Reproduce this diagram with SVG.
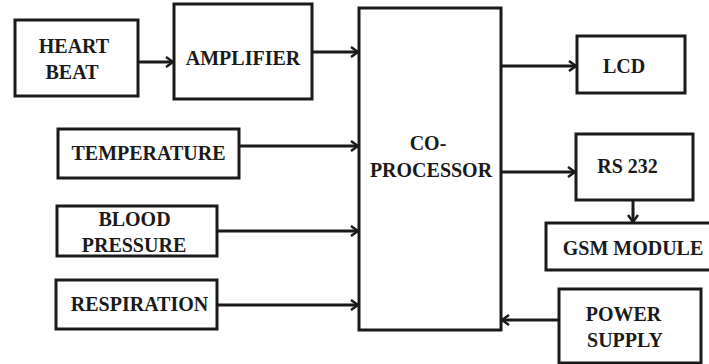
<svg xmlns="http://www.w3.org/2000/svg" width="709" height="364" viewBox="0 0 709 364">
<style>
rect.box{fill:#fff;stroke:#1a1a1a;stroke-width:3}
text{font-family:'Liberation Serif','Tinos','DejaVu Serif','Times New Roman',serif;font-weight:bold;font-size:20px;fill:#1a1a1a;text-anchor:middle}
.conn path{fill:none;stroke:#1a1a1a;stroke-width:3;marker-end:url(#ah)}
</style>
<defs>
<marker id="ah" viewBox="0 0 10 12" refX="9" refY="6" markerWidth="10" markerHeight="12" markerUnits="userSpaceOnUse" orient="auto">
<path d="M2,1 L9,6 L2,11" fill="none" stroke="#1a1a1a" stroke-width="2.5"/>
</marker>
</defs>
<rect width="709" height="364" fill="#fff"/>
<g id="heart-beat"><rect class="box" x="15" y="20" width="123" height="76"/><text x="74" y="53">HEART</text><text x="72" y="79">BEAT</text></g>
<g id="amplifier"><rect class="box" x="174" y="4" width="138" height="95"/><text x="243" y="65">AMPLIFIER</text></g>
<g id="temperature"><rect class="box" x="58" y="129" width="181" height="49"/><text x="148.5" y="160">TEMPERATURE</text></g>
<g id="blood-pressure"><rect class="box" x="57" y="206" width="160" height="50"/><text x="134.5" y="226">BLOOD</text><text x="134" y="252">PRESSURE</text></g>
<g id="respiration"><rect class="box" x="56" y="280" width="161" height="49"/><text x="139.5" y="311">RESPIRATION</text></g>
<g id="co-processor"><rect class="box" x="359" y="8" width="142" height="322"/><text x="428" y="150">CO-</text><text x="431" y="177">PROCESSOR</text></g>
<g id="lcd"><rect class="box" x="577" y="36" width="108" height="57"/><text x="624" y="73">LCD</text></g>
<g id="rs232"><rect class="box" x="576" y="134" width="117" height="66"/><text x="627.5" y="173">RS 232</text></g>
<g id="gsm-module"><rect class="box" x="546" y="223" width="165" height="47"/><text x="633" y="255">GSM MODULE</text></g>
<g id="power-supply"><rect class="box" x="559" y="289" width="142" height="74"/><text x="623.5" y="321">POWER</text><text x="625" y="347">SUPPLY</text></g>
<g class="conn" id="connectors">
<path d="M138,62 H173"/>
<path d="M312,52 H358"/>
<path d="M239,146 H358"/>
<path d="M217,231 H358"/>
<path d="M217,305 H358"/>
<path d="M501,66 H576"/>
<path d="M501,172 H575"/>
<path d="M633,200 V222"/>
<path d="M559,320 H502"/>
</g>
</svg>
